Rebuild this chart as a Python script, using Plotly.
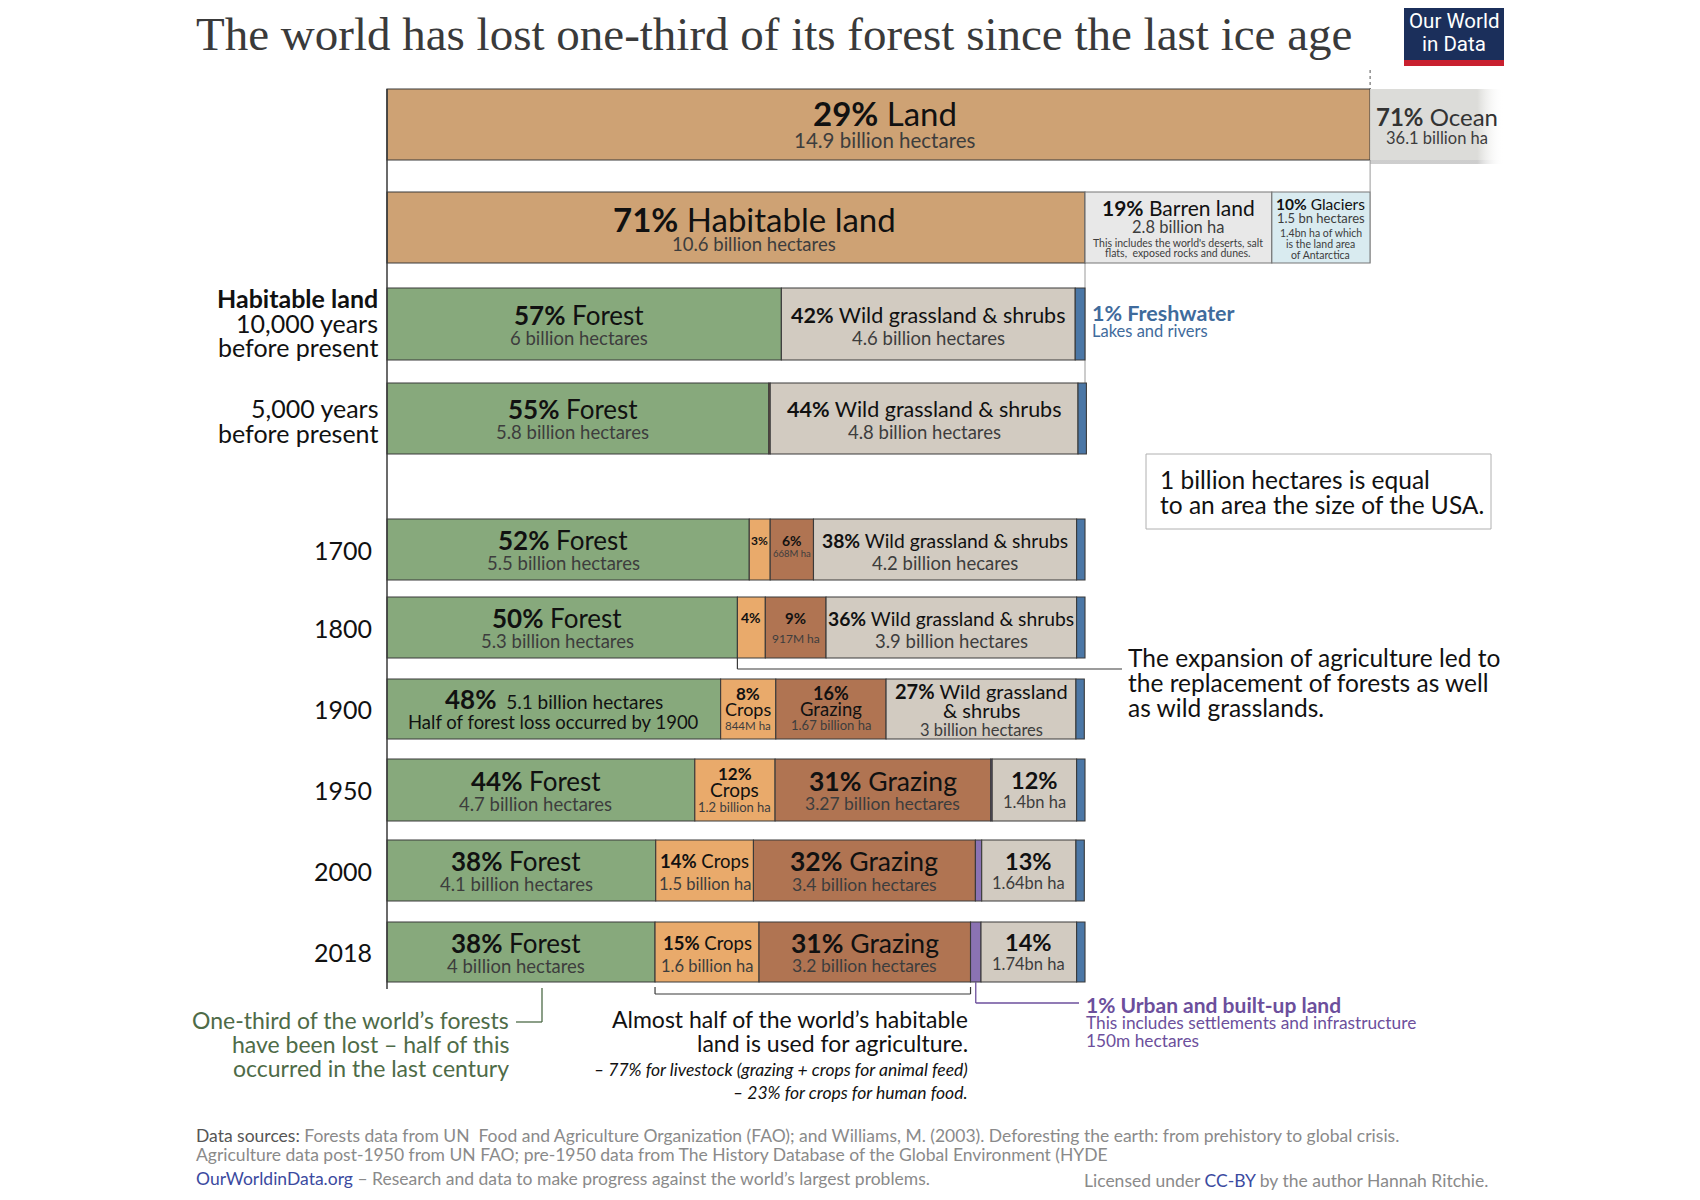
import plotly.graph_objects as go
import numpy as np

# ---------------- DATA ----------------
earth_share = [29, 71]                 # % of Earth's surface: land, ocean
land_share = [71, 19, 10]              # % of land: habitable, barren, glaciers

periods = ["10,000 BP", "5,000 BP", "1700", "1800", "1900", "1950", "2000", "2018"]
# % of habitable land
forest  = [56.5, 54.7, 51.9, 50.2, 47.8, 44.1, 38.5, 38.4]
crops   = [0.0, 0.0, 3.0, 4.0, 7.9, 11.5, 14.0, 14.9]
grazing = [0.0, 0.2, 6.2, 8.7, 15.8, 30.9, 31.8, 30.3]
urban   = [0.0, 0.0, 0.0, 0.0, 0.0, 0.2, 0.9, 1.5]
wild    = [42.1, 44.1, 37.7, 35.9, 27.2, 12.1, 13.5, 13.7]
fresh   = [1.4, 1.2, 1.2, 1.2, 1.2, 1.2, 1.2, 1.2]

# label texts
forest_pct = ["57%", "55%", "52%", "50%", "48%", "44%", "38%", "38%"]
forest_ha = ["6 billion hectares", "5.8 billion hectares", "5.5 billion hectares", "5.3 billion hectares",
             "5.1 billion hectares", "4.7 billion hectares", "4.1 billion hectares", "4 billion hectares"]
wild_pct = ["42%", "44%", "38%", "36%", "27%", "12%", "13%", "14%"]
wild_ha = ["4.6 billion hectares", "4.8 billion hectares", "4.2 billion hecares", "3.9 billion hectares",
           "3 billion hectares", "1.4bn ha", "1.64bn ha", "1.74bn ha"]
crops_pct = ["", "", "3%", "4%", "8%", "12%", "14%", "15%"]
crops_ha = ["", "", "", "", "844M ha", "1.2 billion ha", "1.5 billion ha", "1.6 billion ha"]
grazing_pct = ["", "", "6%", "9%", "16%", "31%", "32%", "31%"]
grazing_ha = ["", "", "668M ha", "917M ha", "1.67 billion ha", "3.27 billion hectares",
              "3.4 billion hectares", "3.2 billion hectares"]

# ---------------- STYLE / LAYOUT ----------------
W, H = 1700, 1200
BODY = 8                      # default page margin of the html body
PX0, PX100 = 387, 1085
ppu = (PX100 - PX0) / 100.0
def U(p):
    return (p - PX0) / ppu

FONT = "Lato"
DARK = "#111111"
SUB = "#3d3d3d"
EDGE = "#3a3a3a"
C_FOREST = "#87a97c"
C_WILD = "#d2cbc1"
C_FRESH = "#4b77a6"
C_CROPS = "#e9aa6b"
C_GRAZ = "#b07452"
C_URBAN = "#8b73b3"
C_LAND = "#cea274"
C_OCEAN = "#dcdcd9"
C_BARREN = "#e8e8e8"
C_GLAC = "#d9ebf0"
C_BLUE = "#3f6b9c"
C_PURPLE = "#6c4f9c"
C_GREEN = "#4e6b47"

ROW_Y = [324, 418.5, 549.5, 627.5, 709, 790, 870.5, 952]
ROW_H = [72, 71, 61, 61, 60, 62, 61, 60]
LAND_Y, LAND_H = 124.5, 71
HAB_Y, HAB_H = 227.5, 71
OCEAN_VIS_PX = 134

fig = go.Figure()

# ---- Earth row ----
land_u = 100.0 * 100.0 / land_share[0]
ox0 = land_u
ox1 = land_u + OCEAN_VIS_PX / ppu
# soft shadow under ocean box
fig.add_scatter(x=[ox0, ox1, ox1, ox0, ox0],
                y=[LAND_Y + LAND_H / 2, LAND_Y + LAND_H / 2, LAND_Y + LAND_H / 2 + 4, LAND_Y + LAND_H / 2 + 4, LAND_Y + LAND_H / 2],
                mode="lines", fill="toself", line=dict(color="rgba(0,0,0,0)", width=0),
                fillgradient=dict(type="horizontal",
                                  colorscale=[[0, "rgba(200,200,200,0.9)"], [0.8, "rgba(200,200,200,0.9)"], [1, "rgba(255,255,255,0)"]]),
                hoverinfo="skip", showlegend=False)
fig.add_scatter(x=[ox0, ox1, ox1, ox0, ox0],
                y=[LAND_Y - LAND_H / 2, LAND_Y - LAND_H / 2, LAND_Y + LAND_H / 2, LAND_Y + LAND_H / 2, LAND_Y - LAND_H / 2],
                mode="lines", fill="toself", line=dict(color="rgba(0,0,0,0)", width=0),
                fillgradient=dict(type="horizontal",
                                  colorscale=[[0, C_OCEAN], [0.8, C_OCEAN], [1, "rgba(255,255,255,0)"]]),
                hoverinfo="skip", showlegend=False)
fig.add_bar(orientation="h", y=[LAND_Y], x=[land_u], base=[0], width=[LAND_H],
            marker=dict(color=C_LAND, line=dict(color=EDGE, width=1.2)), hoverinfo="skip", showlegend=False)

# ---- Land row ----
land_parts = [s / land_share[0] * 100.0 for s in land_share]
land_base = np.concatenate([[0], np.cumsum(land_parts)[:-1]])
for v, b, c in zip(land_parts, land_base, [C_LAND, C_BARREN, C_GLAC]):
    fig.add_bar(orientation="h", y=[HAB_Y], x=[v], base=[b], width=[HAB_H],
                marker=dict(color=c, line=dict(color=EDGE if c == C_LAND else "#777", width=1.2)),
                hoverinfo="skip", showlegend=False)

# ---- Habitable land rows ----
segs = [forest, crops, grazing, urban, wild, fresh]
cols = [C_FOREST, C_CROPS, C_GRAZ, C_URBAN, C_WILD, C_FRESH]
arr = np.array(segs)
bases = np.vstack([np.zeros(len(periods)), np.cumsum(arr, axis=0)[:-1]])
for k, (vals, col) in enumerate(zip(segs, cols)):
    xs = [v if v > 0 else None for v in vals]
    fig.add_bar(orientation="h", y=ROW_Y, x=xs, base=list(bases[k]), width=ROW_H,
                marker=dict(color=col, line=dict(color=EDGE, width=1.1)),
                hoverinfo="skip", showlegend=False)

def T(x, y, text, size, color=DARK, xanchor="center", family=FONT, xshift=0):
    fig.add_annotation(x=x, y=y, xref="x", yref="y", text=text, showarrow=False,
                       font=dict(family=family, size=size, color=color), xshift=xshift,
                       xanchor=xanchor, yanchor="middle", align=xanchor if xanchor != "center" else "center")

def center(k, i):
    return bases[k][i] + segs[k][i] / 2.0

# ---- Earth / land texts ----
T(land_u / 2, 113, f"<b>{earth_share[0]}%</b> Land", 33, xshift=6)
T(land_u / 2, 140, "14.9 billion hectares", 20.5, SUB, xshift=6)
T((ox0 + ox1) / 2, 116, f"<b>{earth_share[1]}%</b> Ocean", 24, "#333")
T((ox0 + ox1) / 2, 138, "36.1 billion ha", 16.5, SUB)
hc = [b + v / 2 for b, v in zip(land_base, land_parts)]
T(hc[0], 219, f"<b>{land_share[0]}%</b> Habitable land", 33, xshift=18)
T(hc[0], 244, "10.6 billion hectares", 18.5, SUB, xshift=18)
T(hc[1], 207, f"<b>{land_share[1]}%</b> Barren land", 21)
T(hc[1], 227, "2.8 billion ha", 16.5, SUB)
T(hc[1], 243, "This includes the world's deserts, salt", 10.5, SUB)
T(hc[1], 253, "flats,  exposed rocks and dunes.", 10.5, SUB)
T(hc[2], 204, f"<b>{land_share[2]}%</b> Glaciers", 15.5)
T(hc[2], 218, "1.5 bn hectares", 13, SUB)
T(hc[2], 233, "1.4bn ha of which", 10.5, SUB)
T(hc[2], 244, "is the land area", 10.5, SUB)
T(hc[2], 255, "of Antarctica", 10.5, SUB)

# ---- Row texts ----
for i, yc in enumerate(ROW_Y):
    # forest
    cx = center(0, i)
    if periods[i] == "1900":
        T(cx, yc - 10, f"<span style='font-size:26px'><b>{forest_pct[i]}</b></span>  {forest_ha[i]}", 19, DARK)
        T(cx, yc + 13, "Half of forest loss occurred by 1900", 18.5, DARK)
    else:
        T(cx, yc - 9.5, f"<b>{forest_pct[i]}</b> Forest", 26, xshift=-5)
        T(cx, yc + 13.5, forest_ha[i], 18.5, SUB, xshift=-5)
    # wild grassland
    cx = center(4, i)
    if i <= 1:
        T(cx, yc - 9.5, f"<b>{wild_pct[i]}</b> Wild grassland &amp; shrubs", 21.5)
        T(cx, yc + 13.5, wild_ha[i], 18.5, SUB)
    elif i <= 3:
        T(cx, yc - 9.5, f"<b>{wild_pct[i]}</b> Wild grassland &amp; shrubs", 19.3)
        T(cx, yc + 13.5, wild_ha[i], 18.5, SUB)
    elif periods[i] == "1900":
        T(cx, yc - 18, f"<b>{wild_pct[i]}</b> Wild grassland", 20)
        T(cx, yc + 1, "&amp; shrubs", 20)
        T(cx, yc + 21, wild_ha[i], 16.5, SUB)
    else:
        T(cx, yc - 10, f"<b>{wild_pct[i]}</b>", 23.5)
        T(cx, yc + 12, wild_ha[i], 16.5, SUB)
    # crops
    if crops[i] > 0:
        cx = center(1, i)
        if periods[i] == "1700":
            T(cx, yc - 9.5, f"<b>{crops_pct[i]}</b>", 12)
        elif periods[i] == "1800":
            T(cx, yc - 10, f"<b>{crops_pct[i]}</b>", 14)
        elif periods[i] == "1900":
            T(cx, yc - 16, f"<b>{crops_pct[i]}</b>", 17)
            T(cx, yc, "Crops", 18)
            T(cx, yc + 16, crops_ha[i], 11.5, SUB)
        elif periods[i] == "1950":
            T(cx, yc - 17, f"<b>{crops_pct[i]}</b>", 17)
            T(cx, yc - 1, "Crops", 19)
            T(cx, yc + 17, crops_ha[i], 13, SUB)
        else:
            T(cx, yc - 9.5, f"<b>{crops_pct[i]}</b> Crops", 18.5)
            T(cx, yc + 13.5, crops_ha[i], 16.5, SUB)
    # grazing
    if grazing[i] > 1:
        cx = center(2, i)
        if periods[i] == "1700":
            T(cx, yc - 9.5, f"<b>{grazing_pct[i]}</b>", 14)
            T(cx, yc + 4, grazing_ha[i], 9.5, SUB)
        elif periods[i] == "1800":
            T(cx, yc - 10, f"<b>{grazing_pct[i]}</b>", 15)
            T(cx, yc + 11, grazing_ha[i], 12, SUB)
        elif periods[i] == "1900":
            T(cx, yc - 16, f"<b>{grazing_pct[i]}</b>", 18)
            T(cx, yc, "Grazing", 18.5)
            T(cx, yc + 16, grazing_ha[i], 13, SUB)
        else:
            T(cx, yc - 9.5, f"<b>{grazing_pct[i]}</b> Grazing", 26.5)
            T(cx, yc + 13.5, grazing_ha[i], 17.5, SUB)

# ---- Row labels (left) ----
T(U(380), 298, "<b>Habitable land</b>", 25, DARK, "right")
T(U(380), 323, "10,000 years", 25, DARK, "right")
T(U(380), 347, "before present", 25, DARK, "right")
T(U(380), 408, "5,000 years", 25, DARK, "right")
T(U(380), 433, "before present", 25, DARK, "right")
for i in range(2, len(periods)):
    T(U(374), ROW_Y[i], periods[i], 25, DARK, "right")

# ---- Title & logo ----
T(U(194), 34, "The world has lost one-third of its forest since the last ice age", 47, "#3a3a3a", "left",
  family="Liberation Serif")
shapes = []
shapes.append(dict(type="rect", xref="x", yref="y", x0=U(1404), x1=U(1504), y0=5, y1=60,
                   fillcolor="#1b2f5b", line=dict(width=0)))
shapes.append(dict(type="rect", xref="x", yref="y", x0=U(1404), x1=U(1504), y0=60, y1=66,
                   fillcolor="#c8202f", line=dict(width=0)))
T(U(1454), 21, "Our World", 20.5, "white", family="Roboto")
T(U(1454), 44, "in Data", 20.5, "white", family="Roboto")

# ---- Lines ----
def L(x0, y0, x1, y1, color=EDGE, width=1.2, dash="solid", layer="above"):
    shapes.append(dict(type="line", xref="x", yref="y", x0=x0, y0=y0, x1=x1, y1=y1,
                       line=dict(color=color, width=width, dash=dash), layer=layer))

L(0, LAND_Y - LAND_H / 2, 0, 989, EDGE, 1.5)
L(land_u, 70, land_u, LAND_Y - LAND_H / 2, "#555", 1, "dot")
L(land_u, LAND_Y + LAND_H / 2, land_u, HAB_Y - HAB_H / 2, "#999", 1)
L(100, HAB_Y + HAB_H / 2, 100, ROW_Y[1] + ROW_H[1] / 2, "#999", 1, layer="below")
# 1800 bracket
i18 = periods.index("1800")
b18 = ROW_Y[i18] + ROW_H[i18] / 2
L(bases[1][i18], b18, bases[1][i18], 669, EDGE, 1.2)
L(bases[1][i18], 669, U(1122), 669, EDGE, 1.2)
# 2018 agriculture bracket
i20 = periods.index("2018")
b20 = ROW_Y[i20] + ROW_H[i20] / 2
a0 = bases[1][i20]
a1 = bases[2][i20] + grazing[i20]
L(a0, b20 + 5, a0, 994, EDGE, 1.2)
L(a1, b20 + 5, a1, 994, EDGE, 1.2)
L(a0, 994, a1, 994, EDGE, 1.2)
# green connector
L(U(542), b20 + 6, U(542), 1022, C_GREEN, 1.3)
L(U(542), 1022, U(516), 1022, C_GREEN, 1.3)
# purple connector
ux = center(3, i20)
L(ux, b20, ux, 1003, C_PURPLE, 1.3)
L(ux, 1003, U(1079), 1003, C_PURPLE, 1.3)
# USA box
shapes.append(dict(type="rect", xref="x", yref="y", x0=U(1146), x1=U(1491), y0=454, y1=529,
                   fillcolor="white", line=dict(color="#b0b0b0", width=1)))

# ---- Right-side notes ----
T(U(1090), 313, "<b>1% Freshwater</b>", 21.5, C_BLUE, "left")
T(U(1090), 331, "Lakes and rivers", 16.5, C_BLUE, "left")
T(U(1158), 479, "1 billion hectares is equal", 24.5, DARK, "left")
T(U(1158), 504, "to an area the size of the USA.", 24.5, DARK, "left")
T(U(1126), 657, "The expansion of agriculture led to", 24.5, DARK, "left")
T(U(1126), 682, "the replacement of forests as well", 24.5, DARK, "left")
T(U(1126), 707, "as wild grasslands.", 24.5, DARK, "left")

# ---- Bottom notes ----
T(U(511), 1020, "One-third of the world’s forests", 23, C_GREEN, "right")
T(U(511), 1044, "have been lost – half of this", 23, C_GREEN, "right")
T(U(511), 1068, "occurred in the last century", 23, C_GREEN, "right")
T(U(970), 1019, "Almost half of the world’s habitable", 23, DARK, "right")
T(U(970), 1043, "land is used for agriculture.", 23, DARK, "right")
T(U(970), 1069, "<i>– 77% for livestock (grazing + crops for animal feed)</i>", 17.5, DARK, "right")
T(U(970), 1092, "<i>– 23% for crops for human food.</i>", 17.5, DARK, "right")
T(U(1084), 1004, "<b>1% Urban and built-up land</b>", 21, C_PURPLE, "left")
T(U(1084), 1022, "This includes settlements and infrastructure", 17.3, C_PURPLE, "left")
T(U(1084), 1040, "150m hectares", 17.3, C_PURPLE, "left")

# ---- Footer ----
GREY = "#8a8a8a"
T(U(194), 1135, "<span style='color:#555'>Data sources:</span> Forests data from UN  Food and Agriculture Organization (FAO); "
  "and Williams, M. (2003). Deforesting the earth: from prehistory to global crisis.", 17.5, GREY, "left")
T(U(194), 1154, "Agriculture data post-1950 from UN FAO; pre-1950 data from The History Database of the Global Environment (HYDE",
  17.5, GREY, "left")
T(U(194), 1178, "<span style='color:#3b4aa0'>OurWorldinData.org</span> – Research and data to make progress against the world’s largest problems.",
  17.5, GREY, "left")
T(U(1490), 1180, "Licensed under <span style='color:#3b4aa0'>CC-BY</span> by the author Hannah Ritchie.", 17.5, GREY, "right")

fig.update_layout(
    width=W, height=H, autosize=False,
    margin=dict(l=0, r=0, t=0, b=0),
    paper_bgcolor="white", plot_bgcolor="white",
    barmode="overlay", showlegend=False,
    xaxis=dict(range=[U(BODY), U(W + BODY)], visible=False, fixedrange=True),
    yaxis=dict(range=[H + BODY, BODY], visible=False, fixedrange=True),
    shapes=shapes,
    font=dict(family=FONT),
)

fig.write_html("out.html")
